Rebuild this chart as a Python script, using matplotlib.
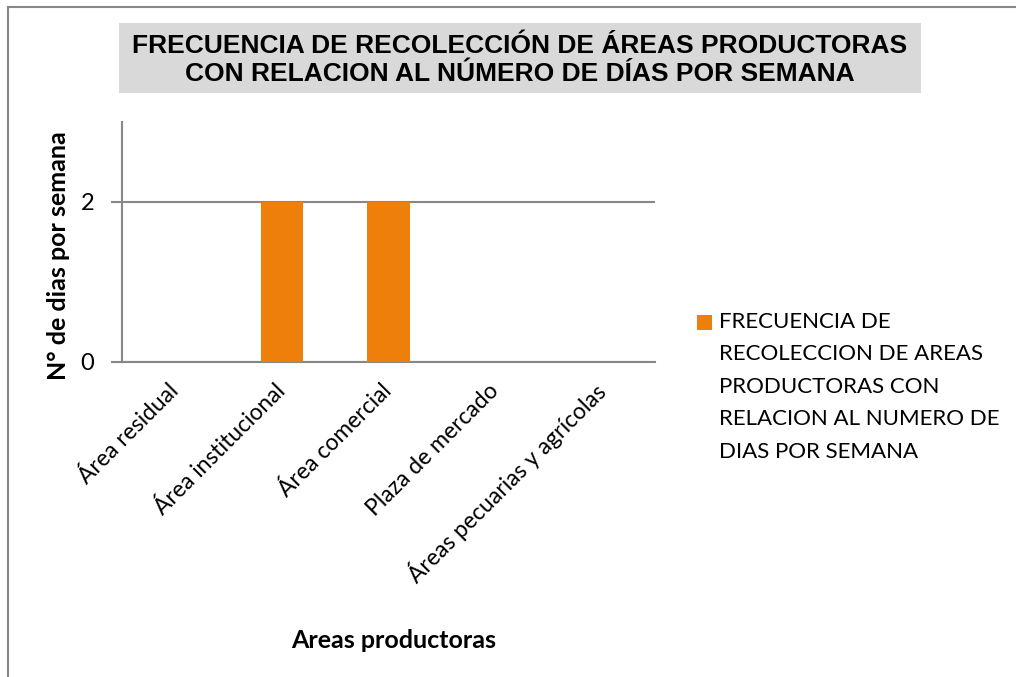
import matplotlib.pyplot as plt
from matplotlib.patches import Rectangle
from matplotlib.lines import Line2D

W, H = 1016, 677

categorias = ['Área residual', 'Área institucional', 'Área comercial',
              'Plaza de mercado', 'Áreas pecuarias y agrícolas']
dias = [0, 2, 2, 0, 0]
y_ticks = [0, 2]

titulo = ('FRECUENCIA DE RECOLECCIÓN DE ÁREAS PRODUCTORAS\n'
          'CON RELACION AL NÚMERO DE DÍAS POR SEMANA')
serie = ('FRECUENCIA DE\nRECOLECCION DE AREAS\nPRODUCTORAS CON\n'
         'RELACION AL NUMERO DE\nDIAS POR SEMANA')
x_titulo = 'Areas productoras'
y_titulo = 'N° de dias por semana'

NARANJA = '#EE7F0A'
GRIS = '#878787'

plt.rcParams['font.family'] = ['Lato', 'DejaVu Sans']

fig = plt.figure(figsize=(W / 100, H / 100), dpi=100)

def px(x, y):
    # pixel (desde arriba) -> fraccion de figura
    return x / W, 1 - y / H

# borde de la figura (solo izquierda y arriba visibles)
fig.add_artist(Line2D([8 / W, 8 / W], [0, 1 - 7 / H], color=GRIS, lw=1.5))
fig.add_artist(Line2D([8 / W, 1], [1 - 7 / H, 1 - 7 / H], color=GRIS, lw=1.5))

# caja del titulo
x0, y0 = px(119, 93)
fig.add_artist(Rectangle((x0, y0), (921 - 119) / W, 70 / H,
                         transform=fig.transFigure, color='#D9D9D9', lw=0))
fig.text(520 / W, 1 - 60 / H, titulo, ha='center', va='center',
         fontsize=19, fontweight='bold', family='Liberation Sans',
         linespacing=1.18)

l, b = px(122, 362)
r, t = px(655, 122)
ax = fig.add_axes([l, b, r - l, t - b])

x = range(len(categorias))
ax.bar(x, dias, width=0.4, color=NARANJA, zorder=3)
ax.set_xlim(-0.5, len(categorias) - 0.5)
ax.set_ylim(0, 3)
ax.set_yticks(y_ticks)
ax.yaxis.grid(True, color=GRIS, lw=1.5)
ax.set_axisbelow(True)

for s in ['top', 'right']:
    ax.spines[s].set_visible(False)
for s in ['left', 'bottom']:
    ax.spines[s].set_color(GRIS)
    ax.spines[s].set_linewidth(1.5)

ax.tick_params(axis='y', length=8, width=1.5, color=GRIS, pad=12, labelsize=17)
ax.tick_params(axis='x', length=0, pad=18)
ax.set_xticks(list(x))
ax.set_xticklabels(categorias, rotation=45, ha='right', va='center',
                   rotation_mode='anchor', fontsize=16.5)

fig.text(394 / W, 1 - 641 / H, x_titulo, ha='center', va='center',
         fontsize=18, fontweight='bold')
fig.text(59 / W, 1 - 256 / H, y_titulo, ha='center', va='center',
         rotation=90, fontsize=18, fontweight='bold')

# leyenda
lx, ly = px(697, 330)
fig.add_artist(Rectangle((lx, ly), 15 / W, 15 / H, transform=fig.transFigure,
                         color=NARANJA, lw=0))
fig.text(719 / W, 1 - 312 / H, serie, ha='left', va='top', fontsize=16,
         linespacing=1.78)

fig.savefig('out.png', dpi=100)
